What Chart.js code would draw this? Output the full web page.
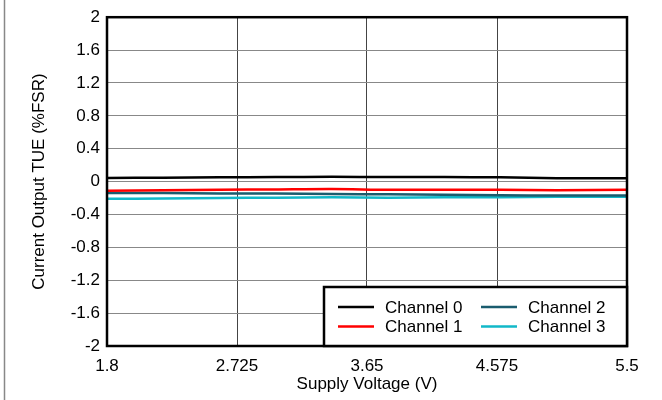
<!DOCTYPE html>
<html>
<head>
<meta charset="utf-8">
<script src="https://cdn.jsdelivr.net/npm/chart.js@4/dist/chart.umd.min.js"></script>
<style>
  html, body { margin: 0; padding: 0; background: #fff; }
  canvas { display: block; }
</style>
</head>
<body>
<canvas id="chart" width="662" height="400"></canvas>
<script>
const voltage = [1.8, 2.2, 2.6, 3.0, 3.4, 3.8, 4.2, 4.6, 5.0, 5.5];
const channel0 = [0.045, 0.048, 0.052, 0.055, 0.058, 0.055, 0.055, 0.052, 0.042, 0.042];
const channel1 = [-0.11, -0.105, -0.1, -0.095, -0.09, -0.1, -0.1, -0.1, -0.105, -0.1];
const channel2 = [-0.14, -0.14, -0.145, -0.145, -0.15, -0.155, -0.16, -0.165, -0.17, -0.17];
const channel3 = [-0.21, -0.205, -0.2, -0.195, -0.19, -0.195, -0.19, -0.19, -0.185, -0.185];

const seriesNames = ["Channel 0", "Channel 1", "Channel 2", "Channel 3"];
const seriesColors = ["#000000", "#ff0000", "#1a5c6e", "#12b8c8"];

const xTicks = [1.8, 2.725, 3.65, 4.575, 5.5];
const xTickLabels = ["1.8", "2.725", "3.65", "4.575", "5.5"];
const yTicks = [-2, -1.6, -1.2, -0.8, -0.4, 0, 0.4, 0.8, 1.2, 1.6, 2];
const yTickLabels = ["-2", "-1.6", "-1.2", "-0.8", "-0.4", "0", "0.4", "0.8", "1.2", "1.6", "2"];

const font = { family: "'Liberation Sans', Arial, sans-serif", size: 17 };

const toPoints = values => values.map((y, i) => ({ x: voltage[i], y }));

const datasets = [channel0, channel1, channel2, channel3].map((values, i) => ({
  label: seriesNames[i],
  data: toPoints(values),
  borderColor: seriesColors[i],
  backgroundColor: seriesColors[i],
  borderWidth: 2.5,
  pointRadius: 0,
  tension: 0.3
}));

// frame, plot border and the boxed two-column legend
const decorations = {
  id: "decorations",
  afterDraw(chart) {
    const { ctx, chartArea: a } = chart;
    ctx.save();

    ctx.strokeStyle = "#888";
    ctx.lineWidth = 1.5;
    ctx.beginPath();
    ctx.moveTo(4.5, 0);
    ctx.lineTo(4.5, chart.height);
    ctx.stroke();

    ctx.strokeStyle = "#000";
    ctx.lineWidth = 2.5;
    ctx.strokeRect(a.left, a.top, a.right - a.left, a.bottom - a.top);

    const boxLeft = a.left + 217;
    const boxTop = a.bottom - 59;
    ctx.fillStyle = "#fff";
    ctx.fillRect(boxLeft, boxTop, a.right - boxLeft, a.bottom - boxTop);
    ctx.lineWidth = 2.5;
    ctx.strokeRect(boxLeft, boxTop, a.right - boxLeft, a.bottom - boxTop);

    ctx.font = font.size + "px " + font.family;
    ctx.textBaseline = "middle";
    ctx.textAlign = "left";
    chart.data.datasets.forEach((ds, i) => {
      const col = Math.floor(i / 2);
      const row = i % 2;
      const x = boxLeft + 14 + col * 143;
      const y = boxTop + 20 + row * 19.5;
      ctx.strokeStyle = ds.borderColor;
      ctx.lineWidth = 2.5;
      ctx.beginPath();
      ctx.moveTo(x, y);
      ctx.lineTo(x + 36, y);
      ctx.stroke();
      ctx.fillStyle = "#000";
      ctx.fillText(ds.label, x + 47, y + 1);
    });

    ctx.restore();
  }
};

new Chart(document.getElementById("chart"), {
  type: "line",
  data: { datasets },
  plugins: [decorations],
  options: {
    responsive: false,
    animation: false,
    layout: { padding: { top: 15, right: 35, left: 0, bottom: 0 } },
    plugins: { legend: { display: false }, tooltip: { enabled: false } },
    scales: {
      x: {
        type: "linear",
        min: 1.8,
        max: 5.5,
        afterBuildTicks: scale => { scale.ticks = xTicks.map(value => ({ value })); },
        afterFit: scale => { scale.height = 54; },
        ticks: {
          color: "#000",
          font,
          padding: 10,
          maxRotation: 0,
          callback: (value, index) => xTickLabels[index]
        },
        grid: { color: "#444", lineWidth: 1, drawTicks: false },
        border: { display: false },
        title: { display: true, text: "Supply Voltage (V)", color: "#000", font, padding: { top: 0, bottom: 5 } }
      },
      y: {
        min: -2,
        max: 2,
        afterBuildTicks: scale => { scale.ticks = yTicks.map(value => ({ value })); },
        afterFit: scale => { scale.width = 107; },
        ticks: {
          color: "#000",
          font,
          padding: 7,
          callback: (value, index) => yTickLabels[index]
        },
        grid: { color: "#888", lineWidth: 1, drawTicks: false },
        border: { display: false },
        title: { display: true, text: "Current Output TUE (%FSR)", color: "#000", font, padding: { top: 29, bottom: 0 } }
      }
    }
  }
});
</script>
</body>
</html>
